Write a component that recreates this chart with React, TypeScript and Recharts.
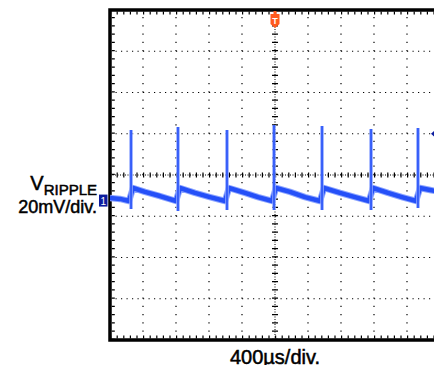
import React from 'react';
import {
    LineChart, Line, XAxis, YAxis, ReferenceLine, ReferenceArea, ReferenceDot,
} from 'recharts';

// ─── Scope settings ────────────────────────────────────────────────────────────
// time in µs (400 µs/div, 10 div), voltage in mV (20 mV/div, 8 div)
const X_DOMAIN = [0, 4000];
const Y_DOMAIN = [-80, 80];
const X_GRID = [400, 800, 1200, 1600, 2400, 2800, 3200, 3600];
const Y_GRID = [-60, -40, -20, 20, 40, 60];

// ─── Trace ─────────────────────────────────────────────────────────────────────
const rippleTimes = [
    0, 121, 230, 279, 424, 606, 800, 848, 1030, 1212, 1394, 1442, 1636, 1794, 1964,
    2012, 2182, 2364, 2545, 2594, 2788, 2970, 3139, 3188, 3370, 3539, 3709, 3758, 3879, 4000,
];
const rippleValues = [
    -11.2, -11.6, -12.6, -6.3, -8.2, -10.2, -12.6, -6.3, -8.7, -10.7, -12.6, -6.3, -8.7, -10.7, -12.6,
    -6.3, -8.2, -10.7, -12.6, -6.3, -8.7, -10.7, -12.6, -6.3, -8.7, -10.7, -12.6, -6.3, -7.3, -8.2,
];
const spikeTimes = [255, 824, 1418, 1988, 2570, 3164, 3733];
const spikeTops = [21.8, 23.3, 21.8, 24.2, 23.8, 22.3, 22.8];
const spikeBottoms = [-16.5, -17.5, -17.0, -17.0, -17.0, -17.0, -16.0];

const rippleData = rippleTimes.map((t, i) => ({ t, v: rippleValues[i] }));
const spikeData = spikeTimes.flatMap((t, i) => [
    { t, v: spikeBottoms[i] },
    { t, v: spikeTops[i] },
    { t: t + 1, v: null },
]);

// ─── Colours ───────────────────────────────────────────────────────────────────
const TRACE = '#2550f8';
const TRACE_LIGHT = '#8ea6ff';
const TRIGGER = '#ff5a1e';
const MARKER = '#0c1c9e';
const FONT = '"Liberation Sans", Arial, Helvetica, sans-serif';

// ─── Screen markers ────────────────────────────────────────────────────────────
const TriggerMark = ({ cx, cy }: any) => (
    <g>
        <rect x={cx - 1.5} y={cy + 1} width={3} height={4} fill={TRIGGER} />
        <path d={`M${cx - 4.5},${cy + 4} H${cx + 4.5} V${cy + 14} L${cx},${cy + 18} L${cx - 4.5},${cy + 14} Z`} fill={TRIGGER} />
        <text x={cx} y={cy + 13.5} textAnchor="middle" fill="#fff" fontSize={9} fontWeight="bold" fontFamily={FONT}>T</text>
    </g>
);

const ChannelMark = ({ cx, cy }: any) => (
    <g>
        <rect x={cx - 11} y={cy - 6} width={8.5} height={12} fill={MARKER} />
        <text x={cx - 6.8} y={cy + 4} textAnchor="middle" fill="#fff" fontSize={10} fontFamily={FONT}>1</text>
    </g>
);

const LevelMark = ({ cx, cy }: any) => (
    <g>
        <path d={`M${cx - 9},${cy} L${cx - 4.5},${cy - 4} V${cy + 4} Z`} fill={MARKER} />
        <rect x={cx - 5} y={cy - 1.2} width={4} height={2.4} fill={MARKER} />
    </g>
);

// ─── Main component ────────────────────────────────────────────────────────────
export default function App() {
    return (
        <div style={{ position: 'relative', width: 442, height: 373, margin: -8, background: '#fff' }}>
            <LineChart width={442} height={373} margin={{ top: 10, right: 2, bottom: 33, left: 110 }}>
                <XAxis type="number" dataKey="t" domain={X_DOMAIN} hide allowDataOverflow />
                <YAxis type="number" dataKey="v" domain={Y_DOMAIN} hide allowDataOverflow />

                {/* dotted graticule */}
                {X_GRID.map(x => (
                    <ReferenceLine key={`gx${x}`} x={x} stroke="#000" strokeWidth={1.2} strokeDasharray="1.2 7.05" />
                ))}
                {Y_GRID.map(y => (
                    <ReferenceLine key={`gy${y}`} y={y} stroke="#000" strokeWidth={1.2} strokeDasharray="1.2 4.3" />
                ))}

                {/* centre cross with minor ticks */}
                <ReferenceLine x={2000} stroke="#000" strokeWidth={1} strokeDasharray="1 1.5" />
                <ReferenceLine x={2000} stroke="#000" strokeWidth={6} strokeDasharray="1.2 7.05" />
                <ReferenceLine y={0} stroke="#000" strokeWidth={1} strokeDasharray="1 1.5" />
                <ReferenceLine y={0} stroke="#000" strokeWidth={5} strokeDasharray="1.2 5.4" />

                {/* minor ticks along the frame */}
                <ReferenceLine x={40} stroke="#000" strokeWidth={3} strokeDasharray="1.2 7.05" />
                <ReferenceLine x={3960} stroke="#000" strokeWidth={3} strokeDasharray="1.2 7.05" />
                <ReferenceLine y={78.5} stroke="#000" strokeWidth={3} strokeDasharray="1.2 5.4" />
                <ReferenceLine y={-78.5} stroke="#000" strokeWidth={3} strokeDasharray="1.2 5.4" />

                {/* ripple trace */}
                <Line data={rippleData} dataKey="v" stroke={TRACE_LIGHT} strokeWidth={6.5} dot={false}
                    activeDot={false} isAnimationActive={false} strokeLinejoin="round" />
                <Line data={rippleData} dataKey="v" stroke={TRACE} strokeWidth={4.5} dot={false}
                    activeDot={false} isAnimationActive={false} strokeLinejoin="round" />
                <Line data={spikeData} dataKey="v" stroke={TRACE_LIGHT} strokeWidth={3.5} dot={false}
                    activeDot={false} isAnimationActive={false} connectNulls={false} />
                <Line data={spikeData} dataKey="v" stroke={TRACE} strokeWidth={1.6} dot={false}
                    activeDot={false} isAnimationActive={false} connectNulls={false} />

                {/* frame */}
                <ReferenceArea x1={0} x2={4000} y1={-80} y2={80} fill="none" stroke="#000" strokeWidth={3.5} ifOverflow="visible" />

                <ReferenceDot x={2000} y={80} shape={TriggerMark} ifOverflow="visible" />
                <ReferenceDot x={0} y={-12.4} shape={ChannelMark} ifOverflow="visible" />
                <ReferenceDot x={4000} y={20} shape={LevelMark} ifOverflow="visible" />
            </LineChart>

            <svg width={442} height={373} style={{ position: 'absolute', left: 0, top: 0, pointerEvents: 'none' }}>
                <text x={97} y={190} textAnchor="end" fontFamily={FONT} fill="#000" stroke="#000" strokeWidth={0.5}>
                    <tspan fontSize={20}>V</tspan>
                    <tspan fontSize={15} dy={5}>RIPPLE</tspan>
                </text>
                <text x={97} y={213} textAnchor="end" fontFamily={FONT} fontSize={18} fill="#000" stroke="#000" strokeWidth={0.5}>20mV/div.</text>
                <text x={275} y={364} textAnchor="middle" fontFamily={FONT} fontSize={20} fill="#000" stroke="#000" strokeWidth={0.5}>400µs/div.</text>
            </svg>
        </div>
    );
}
